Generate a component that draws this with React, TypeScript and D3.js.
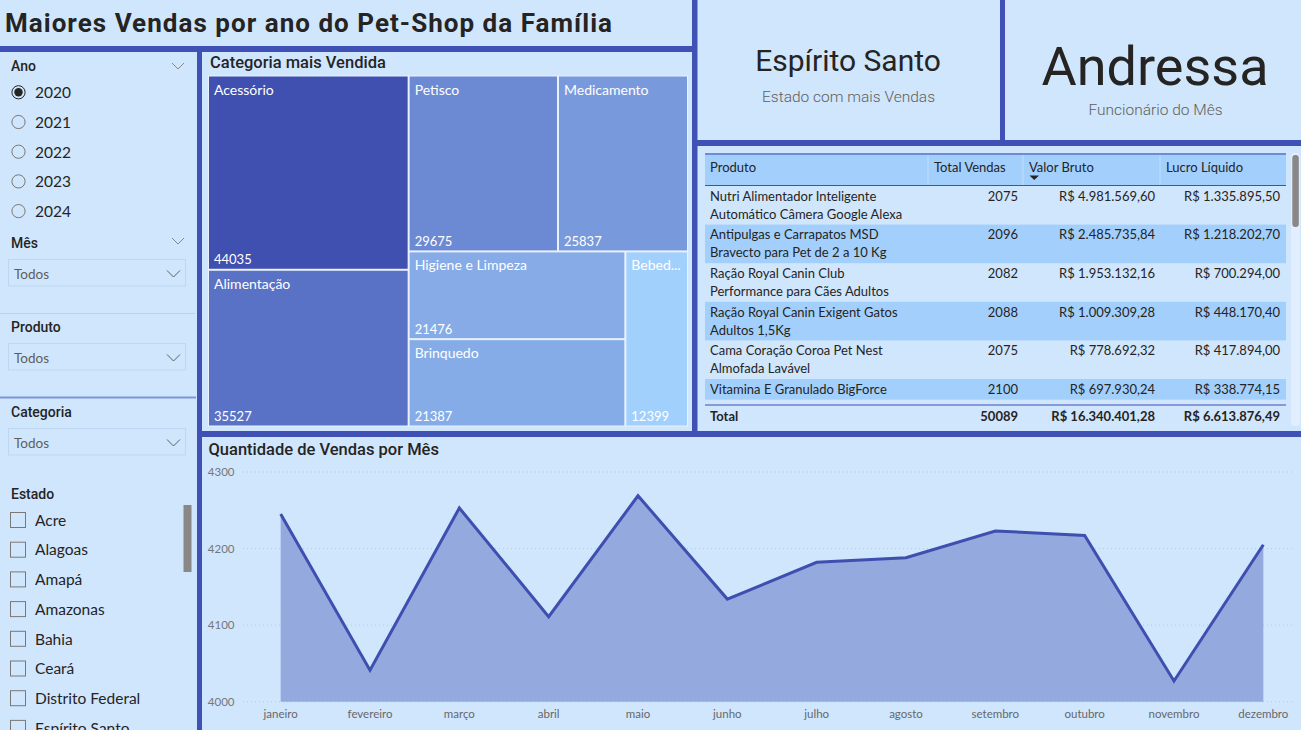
import React from "react";
import * as d3 from "d3";

const W = 1301;
const H = 730;

// Palette
const BG = "#D0E6FD";
const FRAME = "#3F51B5";
const ROW_HL = "#A3CFFC";
const TEXT = "#252423";
const MUTED = "#605E5C";
const DIN = "Roboto, 'DejaVu Sans', sans-serif";
const UI = "Lato, 'Open Sans', sans-serif";

// ---- Slicers ----
const anos = ["2020", "2021", "2022", "2023", "2024"];
const anoSelecionado = "2020";
const estados = ["Acre", "Alagoas", "Amapá", "Amazonas", "Bahia", "Ceará", "Distrito Federal", "Espírito Santo"];

// ---- Treemap: vendas por categoria ----
const categorias = ["Acessório", "Alimentação", "Petisco", "Medicamento", "Higiene e Limpeza", "Brinquedo", "Bebedouro"];
const vendasCategoria = [44035, 35527, 29675, 25837, 21476, 21387, 12399];

// ---- Área: quantidade de vendas por mês ----
const meses = ["janeiro", "fevereiro", "março", "abril", "maio", "junho", "julho", "agosto", "setembro", "outubro", "novembro", "dezembro"];
const vendasMes = [4245, 4041, 4253, 4111, 4269, 4134, 4182, 4188, 4223, 4217, 4027, 4205];
const ticksVendas = [4000, 4100, 4200, 4300];

// ---- Tabela de produtos ----
const colunasTabela = ["Produto", "Total Vendas", "Valor Bruto", "Lucro Líquido"];
const produtos = [
  "Nutri Alimentador Inteligente Automático Câmera Google Alexa",
  "Antipulgas e Carrapatos MSD Bravecto para Pet de 2 a 10 Kg",
  "Ração Royal Canin Club Performance para Cães Adultos",
  "Ração Royal Canin Exigent Gatos Adultos 1,5Kg",
  "Cama Coração Coroa Pet Nest Almofada Lavável",
  "Vitamina E Granulado BigForce",
];
const totalVendas = [2075, 2096, 2082, 2088, 2075, 2100];
const valorBruto = [4981569.6, 2485735.84, 1953132.16, 1009309.28, 778692.32, 697930.24];
const lucroLiquido = [1335895.5, 1218202.7, 700294.0, 448170.4, 417894.0, 338774.15];
const totalGeralVendas = 50089;
const totalGeralBruto = 16340401.28;
const totalGeralLucro = 6613876.49;

// ---- Cartões ----
const estadoDestaque = "Espírito Santo";
const funcionarioDestaque = "Andressa";

const ptBR = d3.formatLocale({ decimal: ",", thousands: ".", grouping: [3], currency: ["R$ ", ""] });
const fmtReal = ptBR.format("$,.2f");

const measureCtx = typeof document !== "undefined" ? document.createElement("canvas").getContext("2d") : null;
function textWidth(t: string, font: string) {
  if (!measureCtx) return t.length * 7;
  measureCtx.font = font;
  return measureCtx.measureText(t).width;
}
function wrapText(t: string, font: string, maxW: number) {
  const words = t.split(" ");
  const lines: string[] = [];
  let cur = "";
  for (const w of words) {
    const next = cur ? cur + " " + w : w;
    if (cur && textWidth(next, font) > maxW) {
      lines.push(cur);
      cur = w;
    } else cur = next;
  }
  if (cur) lines.push(cur);
  return lines;
}
function truncate(t: string, font: string, maxW: number) {
  if (textWidth(t, font) <= maxW) return t;
  let s = t;
  while (s.length > 1 && textWidth(s + "...", font) > maxW) s = s.slice(0, -1);
  return s + "...";
}

function Chevron({ x, y, w = 12, h = 6, color = "#8A8886" }: { x: number; y: number; w?: number; h?: number; color?: string }) {
  return <path d={`M${x},${y} L${x + w / 2},${y + h} L${x + w},${y}`} fill="none" stroke={color} strokeWidth={1} />;
}

function Slicers() {
  const radioY0 = 92.3;
  const radioStep = 29.7;
  const checkY0 = 520;
  const checkStep = 29.7;
  const box = (y: number) => (
    <g>
      <rect x={8.5} y={y} width={177} height={26.5} fill="none" stroke="#BED6F1" strokeWidth={1} />
      <text x={14} y={y + 19} fontFamily={UI} fontSize={13.5} fill={MUTED}>Todos</text>
      <Chevron x={167} y={y + 11} w={13} h={6.5} color="#605E5C" />
    </g>
  );
  const header = (label: string, y: number) => (
    <text x={11} y={y} fontFamily={DIN} fontWeight={500} fontSize={14} fill={TEXT}>{label}</text>
  );
  return (
    <g>
      {header("Ano", 71)}
      <Chevron x={172} y={63} />
      {anos.map((a, i) => {
        const cy = radioY0 + i * radioStep;
        const sel = a === anoSelecionado;
        return (
          <g key={a}>
            <circle cx={18.5} cy={cy} r={6.6} fill="none" stroke={sel ? TEXT : "#7A7876"} strokeWidth={1} />
            {sel && <circle cx={18.5} cy={cy} r={4.2} fill={TEXT} />}
            <text x={35} y={cy + 6} fontFamily={UI} fontSize={15.5} fill={TEXT}>{a}</text>
          </g>
        );
      })}
      {header("Mês", 248.3)}
      <Chevron x={172} y={238} />
      {box(259.5)}
      <line x1={0} x2={195} y1={313.5} y2={313.5} stroke="#B9D2EE" strokeWidth={1} />
      {header("Produto", 331.7)}
      {box(343.5)}
      <line x1={0} x2={196} y1={397.5} y2={397.5} stroke="#7E96D8" strokeWidth={2} />
      {header("Categoria", 416.7)}
      {box(428.5)}
      {header("Estado", 499.3)}
      {estados.map((e, i) => {
        const cy = checkY0 + i * checkStep;
        return (
          <g key={e}>
            <rect x={10.5} y={cy - 7.5} width={15} height={15} fill="none" stroke="#7A7876" strokeWidth={1} />
            <text x={35} y={cy + 5.7} fontFamily={UI} fontSize={15.5} fill={TEXT}>{e}</text>
          </g>
        );
      })}
      <rect x={183.5} y={505} width={8} height={67} fill="#8A8886" />
    </g>
  );
}

function Treemap() {
  const x0 = 209;
  const y0 = 76.5;
  const tw = 478;
  const th = 349;
  const data = { name: "root", children: categorias.map((c, i) => ({ name: c, value: vendasCategoria[i] })) };
  const root = d3
    .hierarchy<any>(data)
    .sum((d: any) => d.value ?? 0)
    .sort((a, b) => (b.value ?? 0) - (a.value ?? 0));
  d3.treemap<any>().size([tw, th]).paddingInner(2).round(false)(root);
  const color = d3
    .scaleLinear<string>()
    .domain([d3.min(vendasCategoria)!, d3.max(vendasCategoria)!])
    .range(["#A2D0FD", "#4050B0"]);
  const nameFont = `14px Lato`;
  return (
    <g>
      <text x={210} y={68.3} fontFamily={DIN} fontWeight={500} fontSize={16.5} fill={TEXT}>Categoria mais Vendida</text>
      <rect x={x0 - 1} y={y0 - 1} width={tw + 2} height={th + 2} fill="#EAF1FC" />
      <g transform={`translate(${x0},${y0})`}>
        {root.leaves().map((n: any) => {
          const w = n.x1 - n.x0;
          const label = truncate(n.data.name, nameFont, w - 10);
          return (
            <g key={n.data.name}>
              <rect x={n.x0} y={n.y0} width={w} height={n.y1 - n.y0} fill={color(n.data.value)} />
              <text x={n.x0 + 5} y={n.y0 + 18} fontFamily={UI} fontSize={14} fill="#FFFFFF">{label}</text>
              <text x={n.x0 + 5} y={n.y1 - 4.5} fontFamily={UI} fontSize={13} fill="#FFFFFF">{n.data.value}</text>
            </g>
          );
        })}
      </g>
    </g>
  );
}

function Cards() {
  return (
    <g>
      <text x={848} y={71} textAnchor="middle" fontFamily={DIN} fontSize={30} fill={TEXT}>{estadoDestaque}</text>
      <text x={848.5} y={101.7} textAnchor="middle" fontFamily={DIN} fontWeight={300} fontSize={15.5} fill={MUTED}>Estado com mais Vendas</text>
      <text x={1155} y={85} textAnchor="middle" fontFamily={DIN} fontSize={54} fill={TEXT}>{funcionarioDestaque}</text>
      <text x={1155.5} y={115} textAnchor="middle" fontFamily={DIN} fontWeight={300} fontSize={15.5} fill={MUTED}>Funcionário do Mês</text>
    </g>
  );
}

function Tabela() {
  const font = "13px Lato";
  const left = 705;
  const right = 1286;
  const colEdges = [705, 928, 1023, 1160, 1286];
  const headerTop = 154;
  const headerBottom = 185.5;
  const lineH = 18;
  let yCursor = 186;
  const rows = produtos.map((p, i) => {
    const lines = wrapText(p, font, 208);
    const h = 2.6 + lines.length * lineH;
    const r = { top: yCursor, h, lines, i };
    yCursor += h;
    return r;
  });
  const bodyBottom = yCursor;
  const sepY = bodyBottom + 5.5;
  const totalBase = sepY + 16;
  const numX = [1018, 1155, 1280];
  return (
    <g fontFamily={UI} fontSize={13} fill={TEXT}>
      <rect x={1291} y={153} width={9} height={273} rx={4} fill="#E2EEFD" />
      <rect x={1292.3} y={155} width={6.5} height={72} rx={3} fill="#8A8886" />
      <rect x={left} y={headerTop} width={right - left} height={headerBottom - headerTop} fill={ROW_HL} />
      <line x1={left} x2={right} y1={headerTop} y2={headerTop} stroke="#6F8BD6" strokeWidth={2} />
      <line x1={left} x2={right} y1={headerBottom} y2={headerBottom} stroke="#3F51B5" strokeWidth={1} />
      {colEdges.slice(1, 4).map((x) => (
        <line key={x} x1={x} x2={x} y1={headerTop + 1} y2={headerBottom - 0.5} stroke="#C4DFFB" strokeWidth={1} />
      ))}
      {colunasTabela.map((c, i) => (
        <text key={c} x={colEdges[i] + (i === 0 ? 5 : 6)} y={171.7}>{c}</text>
      ))}
      <path d="M1029.5,175.5 L1039,175.5 L1034.25,180 Z" fill={TEXT} />
      {rows.map((r) => (
        <g key={r.i}>
          {r.i % 2 === 1 && <rect x={left} y={r.top} width={right - left} height={r.h} fill={ROW_HL} />}
          {r.lines.map((l, k) => (
            <text key={k} x={710} y={r.top + 14.8 + k * lineH}>{l}</text>
          ))}
          <text x={numX[0]} y={r.top + 14.8} textAnchor="end">{totalVendas[r.i]}</text>
          <text x={numX[1]} y={r.top + 14.8} textAnchor="end">{fmtReal(valorBruto[r.i])}</text>
          <text x={numX[2]} y={r.top + 14.8} textAnchor="end">{fmtReal(lucroLiquido[r.i])}</text>
        </g>
      ))}
      <line x1={left} x2={right} y1={sepY} y2={sepY} stroke="#8799DA" strokeWidth={2} />
      <g fontWeight={700}>
        <text x={710} y={totalBase}>Total</text>
        <text x={numX[0]} y={totalBase} textAnchor="end">{totalGeralVendas}</text>
        <text x={numX[1]} y={totalBase} textAnchor="end">{fmtReal(totalGeralBruto)}</text>
        <text x={numX[2]} y={totalBase} textAnchor="end">{fmtReal(totalGeralLucro)}</text>
      </g>
    </g>
  );
}

function VendasMes() {
  const x = d3.scalePoint<string>().domain(meses).range([236, 1308]).padding(0.5);
  const y = d3.scaleLinear().domain([4000, 4300]).range([701.7, 472]);
  const pts = meses.map((m, i) => [x(m)!, y(vendasMes[i])] as [number, number]);
  const area = d3
    .area<[number, number]>()
    .x((d) => d[0])
    .y0(y(4000))
    .y1((d) => d[1]);
  const line = d3.line<[number, number]>().x((d) => d[0]).y((d) => d[1]);
  return (
    <g>
      <text x={208.5} y={455} fontFamily={DIN} fontWeight={500} fontSize={16.5} fill={TEXT}>Quantidade de Vendas por Mês</text>
      {ticksVendas.map((t) => (
        <g key={t}>
          <line x1={243} x2={1292} y1={y(t)} y2={y(t)} stroke="#C2C6CC" strokeWidth={1} strokeDasharray="1,3" />
          <text x={234.5} y={y(t) + 4} textAnchor="end" fontFamily={UI} fontSize={11.5} fill="#77767A">{t}</text>
        </g>
      ))}
      <path d={area(pts)!} fill="#94AADF" />
      <path d={line(pts)!} fill="none" stroke="#3F4FB0" strokeWidth={3} strokeLinejoin="miter" />
      {meses.map((m) => (
        <text key={m} x={x(m)!} y={718} textAnchor="middle" fontFamily={UI} fontSize={11.5} fill="#67666A">{m}</text>
      ))}
    </g>
  );
}

export default function App() {
  return (
    <svg
      width={W}
      height={H}
      viewBox={`0 0 ${W} ${H}`}
      style={{ position: "fixed", left: 0, top: 0, display: "block" }}
    >
      <rect x={0} y={0} width={W} height={H} fill={BG} />
      <text x={5} y={31.5} fontFamily={DIN} fontWeight={700} fontSize={26} fill={TEXT} textLength={607} lengthAdjust="spacing">
        Maiores Vendas por ano do Pet-Shop da Família
      </text>
      <Slicers />
      <Treemap />
      <Cards />
      <Tabela />
      <VendasMes />
      {/* painel frames */}
      <g fill={FRAME}>
        <rect x={0} y={46} width={697} height={6} />
        <rect x={692} y={0} width={5.5} height={437} />
        <rect x={1000} y={0} width={5} height={146} />
        <rect x={692} y={140} width={609} height={6} />
        <rect x={197} y={46} width={5} height={684} />
        <rect x={197} y={431} width={1104} height={6} />
      </g>
    </svg>
  );
}
